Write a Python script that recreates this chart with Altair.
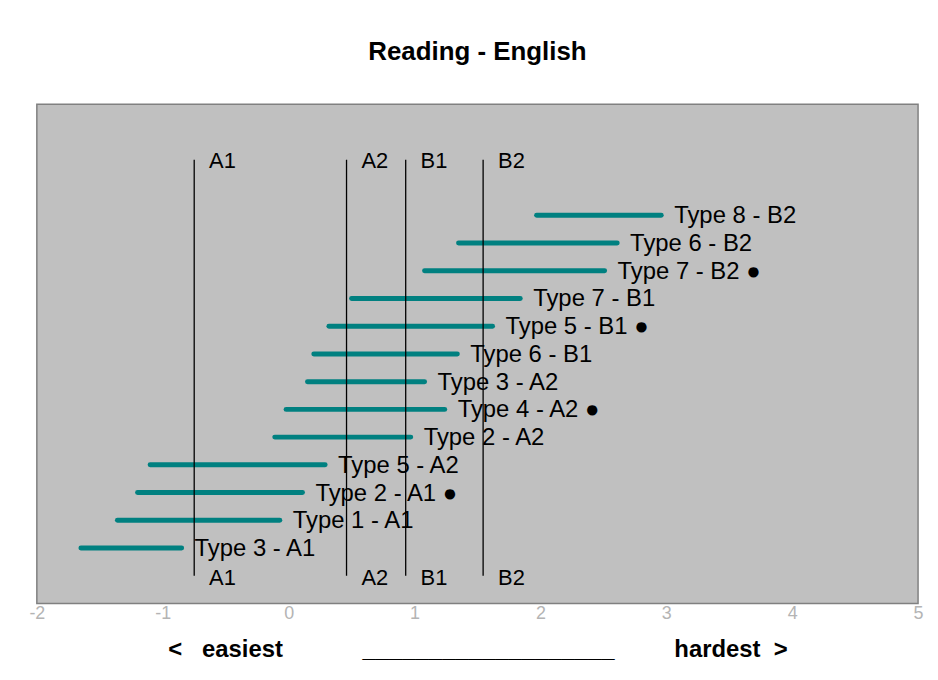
import altair as alt
import pandas as pd

# Task bars (difficulty ranges)
labels = ["Type 3 - A1", "Type 1 - A1", "Type 2 - A1  \u25cf", "Type 5 - A2", "Type 2 - A2",
          "Type 4 - A2  \u25cf", "Type 3 - A2", "Type 6 - B1", "Type 5 - B1  \u25cf", "Type 7 - B1",
          "Type 7 - B2  \u25cf", "Type 6 - B2", "Type 8 - B2"]
positions = [1, 2, 3, 4, 5, 6, 7, 8, 9, 10, 11, 12, 13]
starts = [-1.65, -1.36, -1.20, -1.10, -0.11, -0.02, 0.15, 0.20, 0.32, 0.50, 1.08, 1.35, 1.97]
ends = [-0.85, -0.07, 0.11, 0.29, 0.97, 1.24, 1.08, 1.34, 1.62, 1.84, 2.51, 2.61, 2.96]

# CEFR cut-off lines
levels = ["A1", "A2", "B1", "B2"]
cuts = [-0.75, 0.46, 0.93, 1.545]
line_bottom = [0, 0, 0, 0]
line_top = [15, 15, 15, 15]

x_ticks = [-2, -1, 0, 1, 2, 3, 4, 5]

bars = pd.DataFrame({"label": labels, "pos": positions, "start": starts, "end": ends})
cut_df = pd.DataFrame({"level": levels, "cut": cuts, "y0": line_bottom, "y1": line_top})

FONT = "Liberation Sans"
NB = "\u00a0"
bottom_title = ("<" + NB * 3 + "easiest" + NB * 12 + "_" * 19 + NB * 9
                + "hardest" + NB * 2 + ">")

xscale = alt.Scale(domain=[-2, 5], nice=False, zero=False)
yscale = alt.Scale(domain=[-1, 17], nice=False, zero=False)

xaxis = alt.Axis(values=x_ticks, grid=False, ticks=False, domain=False,
                 labelExpr="'' + datum.value",
                 labelColor="#b4b4b4", labelFontSize=18, labelFont=FONT, labelPadding=1,
                 labelFlush=False, labelBound=False, labelOverlap=False,
                 title=bottom_title, titleFont=FONT, titleFontSize=24, titleFontWeight="bold",
                 titleColor="black", titlePadding=15)

base = alt.Chart(bars)

bar_layer = base.mark_rule(color="#008080", strokeWidth=5, strokeCap="round").encode(
    x=alt.X("start:Q", scale=xscale, axis=xaxis),
    x2="end:Q",
    y=alt.Y("pos:Q", scale=yscale, axis=None),
)

lines = alt.Chart(cut_df).mark_rule(color="black", strokeWidth=1.3).encode(
    x=alt.X("cut:Q", scale=xscale),
    y=alt.Y("y0:Q", scale=yscale),
    y2="y1:Q",
)

top_labels = alt.Chart(cut_df).mark_text(align="left", baseline="middle", dx=15, dy=1,
                                         fontSize=22, font=FONT, color="black").encode(
    x=alt.X("cut:Q", scale=xscale),
    y=alt.Y("y1:Q", scale=yscale),
    text="level:N",
)
bottom_labels = alt.Chart(cut_df).mark_text(align="left", baseline="middle", dx=15, dy=2,
                                            fontSize=22, font=FONT, color="black").encode(
    x=alt.X("cut:Q", scale=xscale),
    y=alt.Y("y0:Q", scale=yscale),
    text="level:N",
)

bar_labels = base.mark_text(align="left", baseline="middle", dx=13, dy=1,
                            fontSize=24, font=FONT, color="black").encode(
    x=alt.X("end:Q", scale=xscale),
    y=alt.Y("pos:Q", scale=yscale),
    text="label:N",
)

chart = alt.layer(bar_layer, lines, bar_labels, top_labels, bottom_labels).properties(
    width=886, height=502,
    title=alt.TitleParams("Reading - English", font=FONT, fontSize=26, fontWeight="bold",
                          color="black", anchor="middle", offset=39),
    autosize=alt.AutoSizeParams(type="none"),
    padding={"left": 29, "top": 95, "right": 12, "bottom": 60},
    background="white",
).configure_view(fill="#C0C0C0", stroke="#808080", strokeWidth=1.5)

chart.save("out.html", embed_options={"renderer": "svg", "actions": False})
